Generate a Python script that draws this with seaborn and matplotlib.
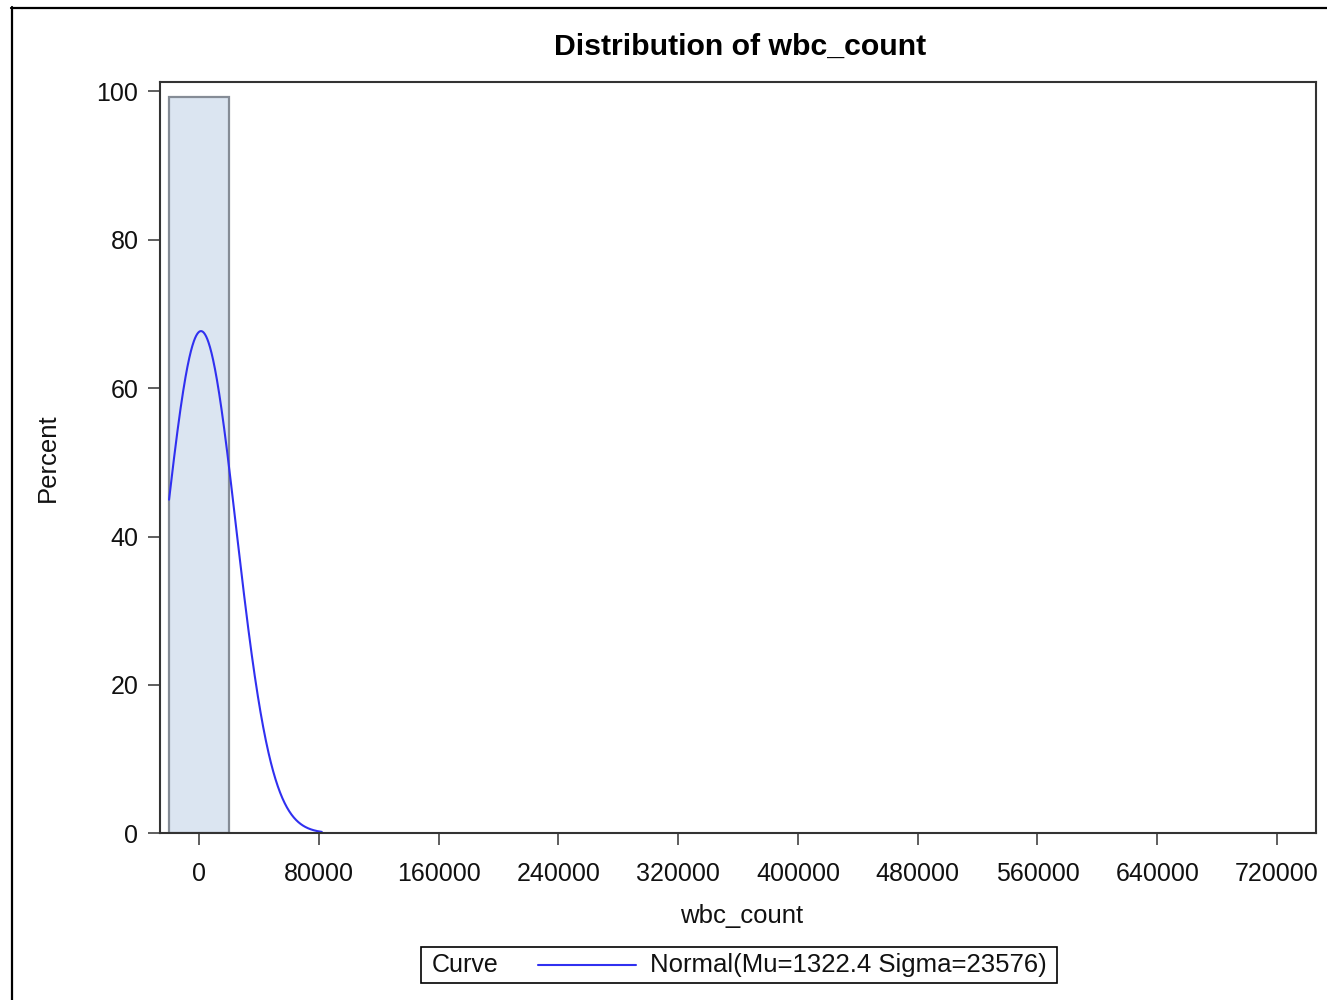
import numpy as np
import pandas as pd
import matplotlib
matplotlib.use("Agg")
import matplotlib.pyplot as plt
import seaborn as sns
from matplotlib.lines import Line2D
from matplotlib.patches import Rectangle

# ---- data ----
bin_edges = [-20000, 20000]          # single histogram bin
bin_centers = [0]
bin_percent = [99.3]                 # percent of observations in the bin
mu = 1322.4                          # fitted normal parameters (legend)
sigma = 23576
curve_range = [-20000, 82000]        # span over which the fitted curve is drawn
x_ticks = [0, 80000, 160000, 240000, 320000, 400000, 480000, 560000, 640000, 720000]
y_ticks = [0, 20, 40, 60, 80, 100]

sns.set_style("white")
plt.rcParams['font.family'] = ['Liberation Sans', 'DejaVu Sans']

W, H = 1327, 1000
fig = plt.figure(figsize=(W / 100, H / 100), dpi=100)
ax = fig.add_axes([160 / W, 1 - 833.3 / H, (1316 - 160) / W, (833.3 - 81.7) / H])

# histogram bar
sns.histplot(x=bin_centers, weights=bin_percent, bins=bin_edges, ax=ax,
             color='#DBE5F1', edgecolor='#858C96', linewidth=1.6, alpha=1.0)

# fitted normal curve, scaled to percent per bin
binwidth = bin_edges[1] - bin_edges[0]
xs = np.linspace(curve_range[0], curve_range[1], 400)
ys = 100 * binwidth * np.exp(-0.5 * ((xs - mu) / sigma) ** 2) / (sigma * np.sqrt(2 * np.pi))
curve_df = pd.DataFrame({"x": xs, "y": ys})
sns.lineplot(data=curve_df, x="x", y="y", ax=ax, color='#3030F0', linewidth=1.5)

ax.set_xlim(-26050, 746050)
ax.set_ylim(0, 101.3)
ax.set_xticks(x_ticks)
ax.set_xticklabels([str(t) for t in x_ticks])
ax.set_yticks(y_ticks)
ax.set_yticklabels([str(t) for t in y_ticks])

for s in ax.spines.values():
    s.set_visible(True)
    s.set_color('#333333')
    s.set_linewidth(1.5)

ax.tick_params(axis='both', which='major', direction='out', length=8.5, width=1.1,
               color='#333333', labelsize=18, labelcolor='#111111')
ax.tick_params(axis='x', pad=12)
ax.tick_params(axis='y', pad=7)
ax.tick_params(bottom=True, left=True)

ax.set_xlabel("wbc_count", fontsize=18.5, color='#111111')
ax.set_ylabel("Percent", fontsize=18.5, color='#111111')
ax.xaxis.set_label_coords((742 - 160) / 1156, (833.3 - 916) / 751.6)
ax.xaxis.label.set_va('center')
ax.yaxis.set_label_coords((48 - 160) / 1156, 0.5)
ax.yaxis.label.set_va('center')

# title
fig.text(740 / W, 1 - 47 / H, "Distribution of wbc_count", ha='center', va='center',
         fontsize=21.8, fontweight='bold', color='#000000')

# legend box
fig.patches.append(Rectangle((421 / W, 1 - 983 / H), (1057 - 421) / W, (983 - 947) / H,
                             transform=fig.transFigure, facecolor='white',
                             edgecolor='#000000', linewidth=1.2))
fig.text(432 / W, 1 - 965 / H, "Curve", ha='left', va='center', fontsize=18, color='#111111')
fig.add_artist(Line2D([538 / W, 636 / W], [1 - 965 / H, 1 - 965 / H],
                      transform=fig.transFigure, color='#3030F0', linewidth=1.5))
fig.text(650 / W, 1 - 965 / H, "Normal(Mu=1322.4 Sigma=23576)", ha='left', va='center',
         fontsize=18.5, color='#111111')

# outer frame (left and top edges visible)
fig.add_artist(Line2D([11.5 / W, 11.5 / W], [0, 1 - 7 / H], transform=fig.transFigure,
                      color='#000000', linewidth=1.6))
fig.add_artist(Line2D([11 / W, 1], [1 - 7.5 / H, 1 - 7.5 / H], transform=fig.transFigure,
                      color='#000000', linewidth=1.6))

fig.savefig("out.png", dpi=100, facecolor='white')
